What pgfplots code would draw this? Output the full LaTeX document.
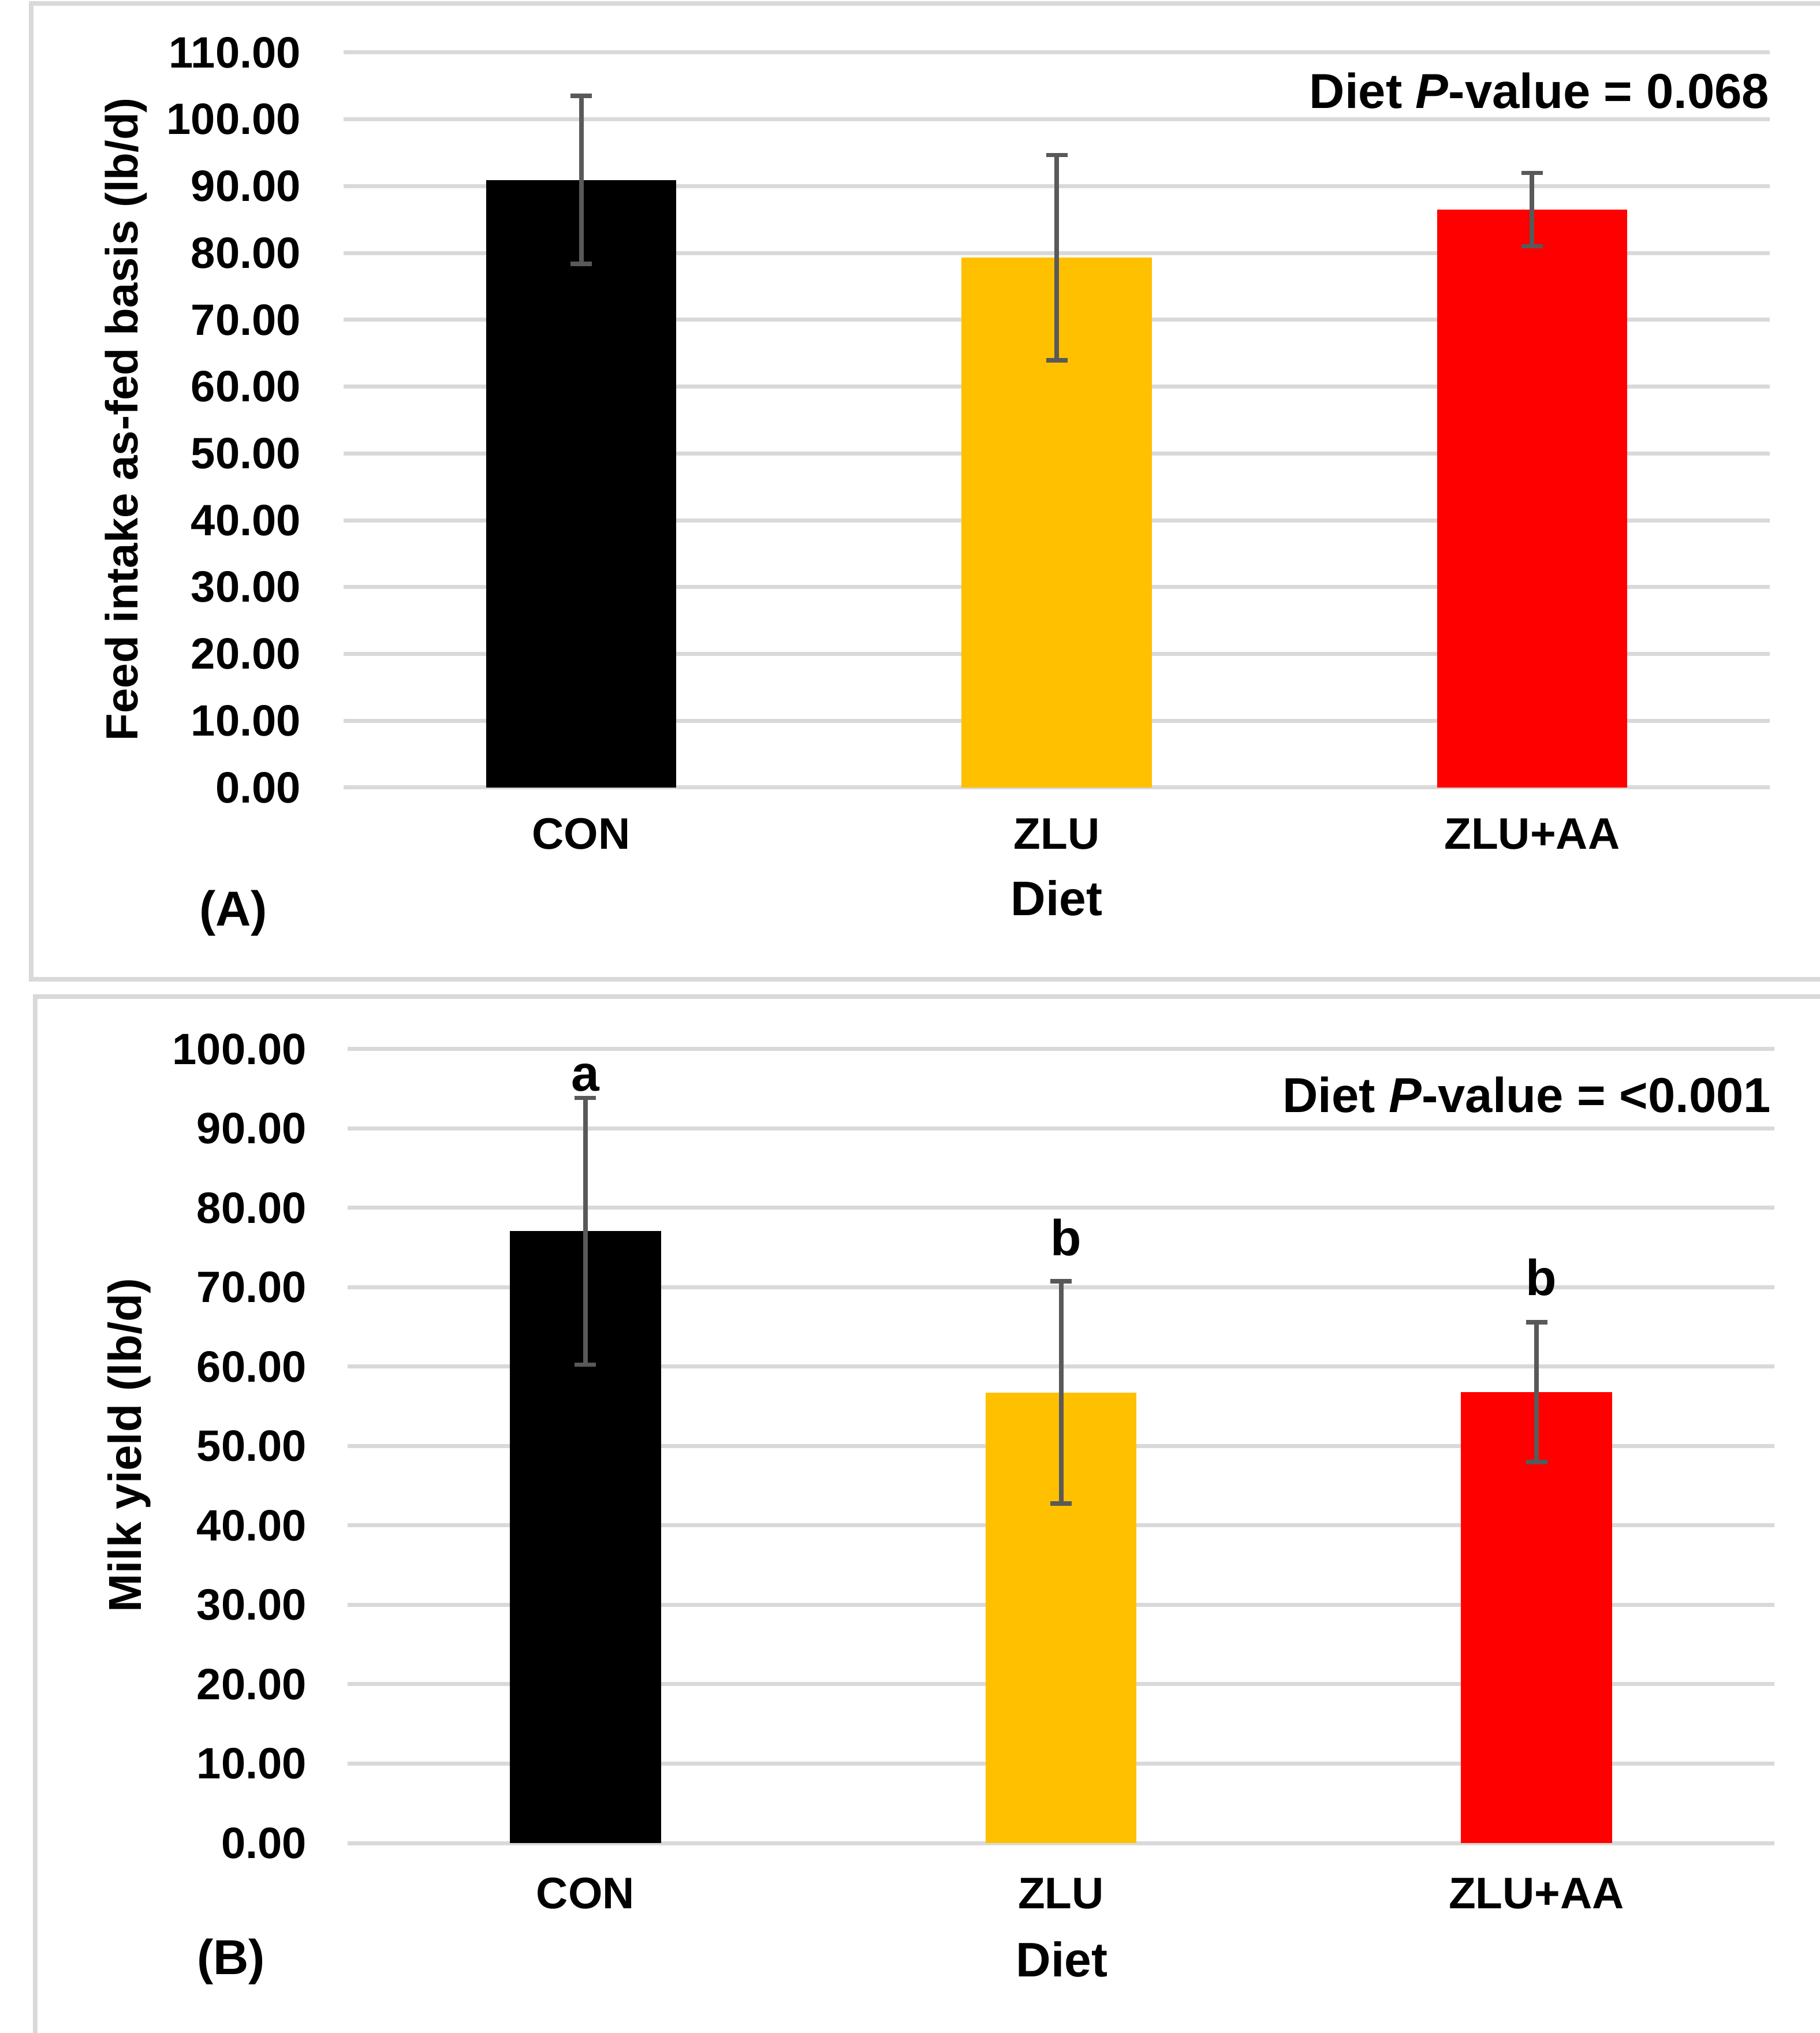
\documentclass[border=0pt]{standalone}
\usepackage{fontspec}
\setmainfont{Liberation Sans}
\usepackage{pgfplots}
\pgfplotsset{compat=1.18}
\definecolor{gridgray}{HTML}{D9D9D9}
\definecolor{errgray}{HTML}{595959}
\definecolor{gold}{HTML}{FFC000}
\definecolor{redbar}{HTML}{FF0000}
\newcommand{\fs}[1]{\fontsize{#1}{#1}\selectfont\bfseries}
\pgfplotsset{
  panel/.style={
    scale only axis, clip=false,
    xmin=-0.5, xmax=2.5, ymin=0,
    xtick={0,1,2}, xticklabels={CON,ZLU,ZLU+AA},
    ymajorgrids, grid style={line width=1.4pt, draw=gridgray},
    axis line style={draw=none}, major tick length=0pt, tick style={draw=none},
    xticklabel style={font=\fs{15.3}, anchor=base, inner sep=0pt},
    yticklabel style={font=\fs{15.2}, anchor=east, inner sep=0pt},
    /pgf/number format/fixed, /pgf/number format/fixed zerofill,
    /pgf/number format/precision=2, /pgf/number format/assume math mode=true,
    xlabel style={font=\fs{16.8}, anchor=base},
    ylabel style={font=\fs{16}, anchor=center},
  },
  ebar/.style={
    ybar, bar shift=0pt, draw=none,
    error bars/y dir=both, error bars/y explicit,
    error bars/error bar style={line width=1.6pt, draw=errgray},
    error bars/error mark options={rotate=90, line width=1.5pt, draw=errgray, mark size=3.7pt},
  },
}
\begin{document}
\begin{tikzpicture}
\useasboundingbox (0pt,0pt) rectangle (630.4pt,704.2pt);
% panel frames
\draw[gridgray, line width=1.6pt] (700pt,703.0pt) -- (10.8pt,703.0pt) -- (10.8pt,365.0pt) -- (700pt,365.0pt);
\draw[gridgray, line width=1.6pt] (700pt,359.0pt) -- (12.2pt,359.0pt) -- (12.2pt,-20pt);

% ---------- Panel A ----------
\begin{axis}[panel,
  at={(119pt,431.4pt)}, anchor=south west,
  width=494pt, height=254.6pt,
  ymax=110, ytick={0,10,...,110},
  xticklabel style={yshift=-21.4pt},
  yticklabel style={xshift=-14.6pt},
  xlabel={Diet}, xlabel style={at={(axis description cs:0.5,-0.1744)}},
  ylabel={Feed intake as-fed basis (lb/d)},
  ylabel style={at={(axis description cs:-0.1526,0.501)}, font=\fs{15.6}},
]
\addplot[bar width=0.4, fill=black, ebar] coordinates {(0,90.94) +- (0,12.57)};
\addplot[bar width=0.4, fill=gold, ebar] coordinates {(1,79.3) +- (0,15.35)};
\addplot[bar width=0.4, fill=redbar, ebar] coordinates {(2,86.49) +- (0,5.49)};
\node[anchor=base east, inner sep=0pt, font=\fs{17}] at (axis description cs:1,0.924) {Diet \textit{P}-value = 0.068};
\node[anchor=base, inner sep=0pt, font=\fs{17}] at (axis description cs:-0.0773,-0.1885) {(A)};
\end{axis}

% ---------- Panel B ----------
\begin{axis}[panel,
  at={(120.4pt,65.8pt)}, anchor=south west,
  width=494.2pt, height=275pt,
  ymax=100, ytick={0,10,...,100},
  xticklabel style={yshift=-22.6pt},
  yticklabel style={xshift=-14pt},
  xlabel={Diet}, xlabel style={at={(axis description cs:0.5006,-0.1687)}},
  ylabel={Milk yield (lb/d)},
  ylabel style={at={(axis description cs:-0.153,0.501)}},
]
\addplot[bar width=0.318, fill=black, ebar] coordinates {(0,77.06) +- (0,16.8)};
\addplot[bar width=0.318, fill=gold, ebar] coordinates {(1,56.75) +- (0,14.0)};
\addplot[bar width=0.318, fill=redbar, ebar] coordinates {(2,56.8) +- (0,8.8)};
\node[anchor=base, inner sep=0pt, font=\fs{17.5}] at (axis cs:0,94.7) {a};
\node[anchor=base, inner sep=0pt, font=\fs{17.5}] at (axis cs:1.01,74.0) {b};
\node[anchor=base, inner sep=0pt, font=\fs{17.5}] at (axis cs:2.01,69.0) {b};
\node[anchor=base east, inner sep=0pt, font=\fs{17}] at (axis description cs:0.998,0.92) {Diet \textit{P}-value = <0.001};
\node[anchor=base, inner sep=0pt, font=\fs{17}] at (axis description cs:-0.0817,-0.1658) {(B)};
\end{axis}
\end{tikzpicture}
\end{document}
